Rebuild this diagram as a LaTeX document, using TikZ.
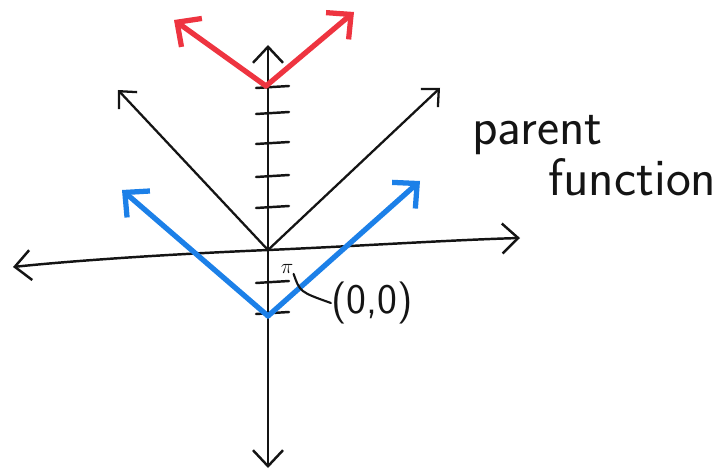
\documentclass[tikz,border=0pt]{standalone}
\usepackage{xcolor}
\usepackage{tikz}
\usetikzlibrary{arrows.meta,positioning,calc}
\definecolor{ShiftUp}{RGB}{238,52,64}
\definecolor{ShiftDown}{RGB}{28,128,232}
\definecolor{pen}{RGB}{20,20,20}
\tikzset{
  axis/.style={pen,line width=1.4pt,line cap=round,-{Straight Barb[length=3.2mm,width=6mm]}},
  tick/.style={pen,line width=1.4pt,line cap=round},
  parent/.style={pen,line width=1.3pt,line cap=round,-{Straight Barb[length=2.6mm,width=5mm]}},
  shifted/.style={line width=3pt,line cap=round,-{Straight Barb[length=3.6mm,width=7mm]}},
  note/.style={pen,font=\sffamily\fontsize{30}{36}\selectfont,inner sep=0pt}
}

\begin{document}
\begin{tikzpicture}[x=0.02cm,y=-0.02cm]
  \useasboundingbox (0,0) rectangle (724,473);
  % axes
  \coordinate (O) at (268,250);
  \coordinate (xl) at (13,267);
  \coordinate (xr) at (520,238);
  \coordinate (yt) at (268,45);
  \coordinate (yb) at (268,468);
  \draw[axis] (O) .. controls (150,255) and (60,262) .. (xl);
  \draw[axis] (O) .. controls (360,246) and (450,240) .. (xr);
  \draw[axis] (O) -- (yt);
  \draw[axis] (O) -- (yb);
  % tick marks on the y axis
  \foreach \ty in {87,113,143,176,207,282,313}{
    \draw[tick] (256,{\ty+1}) -- (289,{\ty-1});
  }
  % parent function y=|x|
  \coordinate (pl) at (118,90);
  \coordinate (pr) at (440,88);
  \draw[parent] (O) -- (pl);
  \draw[parent] (O) -- (pr);
  % shifted up (red)
  \coordinate (rv) at (266,86);
  \coordinate (rl) at (174,20);
  \coordinate (rr) at (354,12);
  \draw[shifted,ShiftUp] (rv) -- (rl);
  \draw[shifted,ShiftUp] (rv) -- (rr);
  % shifted down (blue)
  \coordinate (bv) at (268,316);
  \coordinate (bl) at (122,190);
  \coordinate (br) at (420,181);
  \draw[shifted,ShiftDown] (bv) -- (bl);
  \draw[shifted,ShiftDown] (bv) -- (br);
  % label for the point
  \node[pen,font=\large\sffamily,inner sep=0pt] (mark) at (287,269) {$\pi$};
  \node[note,font=\sffamily\fontsize{24}{28}\selectfont] (pt) at (372,303) {(0,0)};
  \draw[tick,line width=1.2pt] (mark.south east) .. controls (300,292) .. (pt.west);
  % caption of the black graph
  \node[note,anchor=base west] (par) at (472,145) {parent};
  \node[note,anchor=base west] (fun) at (548,195) {function};
\end{tikzpicture}
\end{document}
